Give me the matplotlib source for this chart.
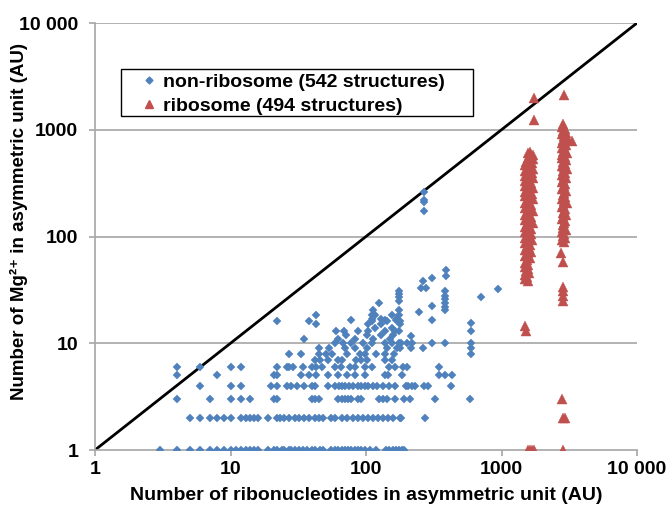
import matplotlib
matplotlib.use("Agg")
import matplotlib.pyplot as plt
from matplotlib.lines import Line2D
from matplotlib.patches import Rectangle

plt.rcParams['font.family'] = ['Liberation Sans', 'DejaVu Sans']

# ---------------- data: non-ribosome structures (x = nucleotides, by Mg count row) ----------------
mg1_x = [3, 4, 5, 6, 7, 8, 9, 10, 11, 12, 13, 14, 15, 16, 19, 21, 22, 24, 25, 27, 28, 30, 32, 34,
         37, 40, 42, 46, 48, 55, 59, 62, 66, 70, 74, 78, 83, 88, 92, 98, 107, 118, 140, 148, 158,
         167, 175, 185, 190]
mg2_x = [5, 6, 7, 8, 9, 10, 12, 13, 14, 15, 16, 19, 22, 23, 25, 27, 30, 32, 35, 38, 42, 45, 48,
         55, 59, 67, 73, 80, 87, 95, 104, 113, 123, 134, 146, 158, 177, 180, 272]
mg3_x = [4, 7, 10, 12, 14, 21, 22, 40, 42, 45, 62, 66, 70, 74, 78, 87, 92, 125, 133, 142, 164,
         192, 212, 323, 590]
mg4_x = [6, 10, 12, 20, 22, 26, 28, 31, 35, 40, 42, 52, 59, 63, 67, 70, 75, 80, 87, 92, 98, 104,
         112, 120, 133, 148, 164, 198, 205, 217, 230, 270, 285, 426]
mg5_x = [4, 8, 21, 22, 33, 38, 43, 52, 62, 72, 83, 98, 138, 145, 185, 347, 385, 429]
mg6_x = [4, 6, 10, 12, 22, 26, 27, 29, 34, 40, 43, 47, 59, 65, 76, 83, 98, 111, 148, 164, 187,
         200, 347]
mg7_x = [42, 46, 52, 62, 67, 85, 92, 102, 138, 155]
mg8_x = [27, 33, 45, 51, 56, 72, 90, 98, 119, 138, 160, 596]
mg9_x = [45, 53, 70, 83, 101, 142, 169, 179, 215, 265, 596]
mg10_x = [59, 68, 78, 95, 110, 138, 155, 174, 180, 200, 218, 308, 385, 596]

# scattered points above ten Mg (x, y read individually)
high_x = [35, 62, 71, 83, 101, 112, 130, 150, 158, 215,
          60, 69, 87, 104, 138, 164, 174, 600,
          43, 104, 116, 130, 155, 179, 600, 22,
          38, 110, 142, 177, 308, 78, 138, 167,
          110, 128, 169, 43, 110, 117, 155, 174,
          112, 174, 124, 174, 174, 174, 174,
          248, 308, 385, 385, 385, 385, 385, 385,
          265, 255, 275, 308, 390, 390, 700, 950,
          270, 270, 270, 270]
high_y = [11, 11, 12, 11, 12, 11, 12, 11, 12, 11.7,
          13, 13, 13, 13, 13, 13, 13, 13,
          15, 15, 14, 15, 14, 15, 15.5, 16,
          16, 16, 16, 16, 16.5, 16.5, 16.5, 16.5,
          17, 17, 17, 18.4, 18.4, 18.4, 18.4, 18.4,
          20.5, 20.5, 24, 25, 27, 29, 31,
          19.5, 22.5, 31, 28, 26, 24, 22, 20.5,
          38.5, 33, 33, 41, 49, 43, 27, 32,
          260, 220, 210, 175]

# ---------------- data: ribosome structures ----------------
ribo1_y = [1970, 1230, 620, 600, 575, 560, 545, 530, 515, 500, 485, 470, 455, 440, 425, 410, 400,
           390, 380, 370, 360, 350, 340, 330, 320, 310, 300, 292, 284, 276, 268, 260, 252, 245,
           238, 231, 224, 217, 210, 204, 198, 192, 186, 180, 174, 168, 163, 158, 153, 148, 143,
           138, 134, 130, 126, 122, 118, 114, 110, 106, 102, 99, 96, 93, 90, 87, 84, 81, 78, 75,
           72, 69, 66, 63, 60, 57, 54, 52, 50, 48, 46, 44, 42, 40, 38,
           14.5, 13, 1, 1, 1, 1]
ribo1_x = [1740, 1740, 1620, 1560, 1700, 1650, 1580, 1720, 1600, 1520, 1680, 1480, 1560, 1640,
           1720, 1500, 1600, 1680, 1540, 1480, 1620, 1700, 1560, 1500, 1660, 1580, 1480, 1640,
           1720, 1540, 1600, 1500, 1680, 1560, 1480, 1620, 1700, 1540, 1600, 1500, 1660, 1580,
           1480, 1640, 1720, 1540, 1600, 1500, 1660, 1560, 1480, 1620, 1700, 1540, 1600, 1500,
           1660, 1580, 1480, 1640, 1540, 1600, 1500, 1680, 1560, 1480, 1620, 1540, 1600, 1500,
           1660, 1560, 1480, 1620, 1540, 1500, 1580, 1480, 1560, 1520, 1600, 1500, 1540, 1480,
           1560, 1500, 1520, 1560, 1620, 1680, 1740]
ribo2_y = [2115, 1125, 785, 1050, 1010, 975, 940, 905, 870, 840, 810, 780, 750, 720, 695, 670,
           645, 620, 600, 580, 560, 540, 520, 500, 480, 462, 445, 428, 412, 396, 380, 366, 352,
           338, 325, 312, 300, 288, 276, 265, 254, 244, 234, 224, 215, 206, 197, 189, 181, 173,
           166, 159, 152, 145, 139, 133, 127, 121, 116, 111, 106, 101, 97, 93, 89,
           70, 58, 34, 31, 28, 25, 3, 2, 2, 1]
ribo2_x = [2900, 2850, 3320, 2800, 2950, 2850, 3000, 2780, 2900, 3050, 2820, 2950, 2800, 3000,
           2880, 2780, 2950, 2850, 3050, 2800, 2920, 2780, 3000, 2850, 2950, 2800, 2900, 3050,
           2820, 2950, 2780, 2900, 3000, 2850, 2800, 2950, 2900, 2850, 2780, 3000, 2880, 2820,
           2950, 2800, 2900, 3050, 2850, 2780, 2950, 2900, 2820, 3000, 2850, 2780, 2950, 2900,
           2820, 2850, 3000, 2780, 2900, 2850, 2950, 2800, 2880,
           2750, 2830, 2850, 2850, 2850, 2850, 2800, 2850, 2950, 2850]

diag = [1, 10000]
ticks = [1, 10, 100, 1000, 10000]
tick_labels = ["1", "10", "100", "1000", "10 000"]
legend_labels = ["non-ribosome (542 structures)", "ribosome (494 structures)"]

nonribo_x, nonribo_y = [], []
for yv, xs in [(1, mg1_x), (2, mg2_x), (3, mg3_x), (4, mg4_x), (5, mg5_x), (6, mg6_x),
               (7, mg7_x), (8, mg8_x), (9, mg9_x), (10, mg10_x)]:
    nonribo_x += xs
    nonribo_y += [yv] * len(xs)
nonribo_x += high_x
nonribo_y += high_y

blue = '#4F81BD'
red = '#C0504D'
grid_c = '#A6A6A6'
FS = 14

W, H = 671, 511
fig = plt.figure(figsize=(W / 100, H / 100), dpi=100)
ax = fig.add_axes([95/W, 61/H, 542/W, 427/H])
ax.set_xscale('log')
ax.set_yscale('log')
ax.set_xlim(1, 10000)
ax.set_ylim(1, 10000)

for yv in ticks[1:]:
    ax.axhline(yv, color=grid_c, lw=1.2, zorder=1)

ax.plot(diag, diag, color='black', lw=2, zorder=2)
ax.plot(nonribo_x, nonribo_y, ls='none', marker='D', ms=4.0, color=blue, mec=blue, mew=0.3, zorder=3)
ax.plot(ribo1_x, ribo1_y, ls='none', marker='^', ms=6.5, color=red, mec=red, mew=0.3, zorder=3)
ax.plot(ribo2_x, ribo2_y, ls='none', marker='^', ms=6.5, color=red, mec=red, mew=0.3, zorder=3)

for s in ['top', 'right']:
    ax.spines[s].set_visible(False)
for s in ['left', 'bottom']:
    ax.spines[s].set_color(grid_c)
    ax.spines[s].set_linewidth(1.2)

ax.set_xticks(ticks)
ax.set_xticklabels(tick_labels)
ax.set_yticks(ticks)
ax.set_yticklabels(tick_labels)
ax.minorticks_off()
ax.tick_params(axis='both', which='major', length=4, width=1.2, color=grid_c, labelsize=FS)
ax.tick_params(axis='x', pad=4)
ax.tick_params(axis='y', pad=8)
for lab in ax.get_xticklabels() + ax.get_yticklabels():
    lab.set_fontweight('bold')

ax.set_xlabel("Number of ribonucleotides in asymmetric unit (AU)", fontsize=FS, fontweight='bold')
ax.set_ylabel("Number of Mg\u00b2\u207a in asymmetric unit (AU)", fontsize=13.5,
              fontweight='bold')
ax.xaxis.set_label_coords(0.5, (450 - 487) / 427)
ax.yaxis.set_label_coords((28 - 95) / 542, (450 - 221) / 427)

# legend frame
ax.add_patch(Rectangle(((121 - 95) / 542, (450 - 116) / 427), (473 - 121) / 542, 47 / 427,
                       transform=ax.transAxes, facecolor='white', edgecolor='black', lw=1.0,
                       zorder=4))
handles = [Line2D([], [], ls='none', marker='D', ms=3.5, color=blue),
           Line2D([], [], ls='none', marker='^', ms=5.5, color=red)]
leg = ax.legend(handles, legend_labels,
                loc='upper left', bbox_to_anchor=((139 - 95) / 542, (450 - 73.5) / 427),
                borderaxespad=0, borderpad=0, frameon=False,
                prop={'weight': 'bold', 'size': FS}, handletextpad=0.22, handlelength=1.0,
                labelspacing=0.33)
leg.set_zorder(5)

fig.savefig("out.png", dpi=100)
